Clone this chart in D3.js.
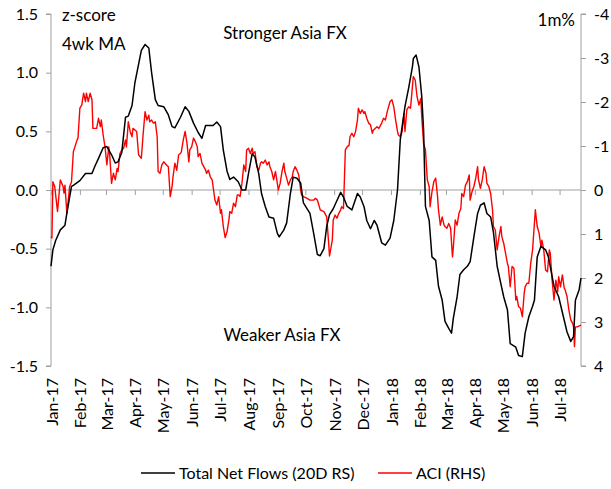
<!DOCTYPE html>
<html>
<head>
<meta charset="utf-8">
<script src="https://cdn.jsdelivr.net/npm/d3@7"></script>
<style>
  html, body { margin: 0; padding: 0; background: #fff; }
  svg { display: block; font-family: Lato, "Open Sans", sans-serif; }
</style>
</head>
<body>
<svg id="chart" width="611" height="489"></svg>
<script>
// Total Net Flows (20D RS), z-score 4wk MA, left axis
const flowSeries = [
["2017-01-01",-0.65],["2017-01-03",-0.51],["2017-01-06",-0.43],["2017-01-11",-0.34],["2017-01-16",-0.30],
["2017-01-18",-0.20],["2017-01-23",0.03],["2017-01-25",0.04],["2017-02-01",0.08],["2017-02-07",0.14],
["2017-02-14",0.14],["2017-02-17",0.20],["2017-02-21",0.27],["2017-02-26",0.36],["2017-03-02",0.37],
["2017-03-07",0.30],["2017-03-11",0.23],["2017-03-14",0.24],["2017-03-18",0.32],["2017-03-22",0.62],
["2017-03-25",0.63],["2017-03-29",0.72],["2017-04-01",0.91],["2017-04-05",1.07],["2017-04-08",1.19],
["2017-04-12",1.24],["2017-04-16",1.21],["2017-04-19",1.00],["2017-04-23",0.77],["2017-04-26",0.72],
["2017-05-02",0.71],["2017-05-07",0.64],["2017-05-11",0.54],["2017-05-14",0.53],["2017-05-20",0.62],
["2017-05-25",0.71],["2017-05-29",0.67],["2017-06-03",0.57],["2017-06-08",0.49],["2017-06-12",0.44],
["2017-06-16",0.55],["2017-06-19",0.55],["2017-06-24",0.55],["2017-06-28",0.58],["2017-07-02",0.54],
["2017-07-05",0.34],["2017-07-09",0.16],["2017-07-12",0.09],["2017-07-16",0.11],["2017-07-21",0.07],
["2017-07-25",0.00],["2017-07-29",0.00],["2017-08-01",0.14],["2017-08-05",0.31],["2017-08-08",0.28],
["2017-08-12",0.14],["2017-08-15",-0.03],["2017-08-19",-0.14],["2017-08-23",-0.23],["2017-08-28",-0.24],
["2017-09-01",-0.37],["2017-09-03",-0.40],["2017-09-08",-0.34],["2017-09-11",-0.28],["2017-09-15",-0.03],
["2017-09-18",0.11],["2017-09-22",0.10],["2017-09-26",0.06],["2017-09-29",-0.11],["2017-10-06",-0.20],
["2017-10-10",-0.37],["2017-10-14",-0.55],["2017-10-17",-0.56],["2017-10-21",-0.50],["2017-10-24",-0.31],
["2017-10-27",-0.21],["2017-10-31",-0.16],["2017-11-04",-0.09],["2017-11-08",-0.02],["2017-11-11",-0.06],
["2017-11-15",-0.14],["2017-11-20",-0.17],["2017-11-26",-0.03],["2017-11-29",-0.06],["2017-12-03",-0.14],
["2017-12-06",-0.26],["2017-12-10",-0.33],["2017-12-14",-0.26],["2017-12-17",-0.30],["2017-12-22",-0.45],
["2017-12-26",-0.47],["2017-12-31",-0.41],["2018-01-04",-0.26],["2018-01-08",0.00],["2018-01-11",0.43],
["2018-01-16",0.71],["2018-01-20",0.87],["2018-01-24",1.05],["2018-01-25",1.12],["2018-01-28",1.15],
["2018-01-31",1.05],["2018-02-03",0.80],["2018-02-05",0.51],["2018-02-07",-0.14],["2018-02-11",-0.26],
["2018-02-14",-0.57],["2018-02-18",-0.60],["2018-02-21",-0.82],["2018-02-25",-0.94],["2018-02-28",-1.12],
["2018-03-04",-1.18],["2018-03-07",-1.22],["2018-03-09",-1.09],["2018-03-13",-0.91],["2018-03-16",-0.72],
["2018-03-20",-0.68],["2018-03-24",-0.65],["2018-03-27",-0.61],["2018-03-31",-0.40],["2018-04-04",-0.20],
["2018-04-07",-0.13],["2018-04-11",-0.11],["2018-04-14",-0.20],["2018-04-18",-0.23],["2018-04-21",-0.36],
["2018-04-25",-0.65],["2018-04-29",-0.80],["2018-05-02",-0.91],["2018-05-06",-1.02],["2018-05-09",-1.31],
["2018-05-15",-1.34],["2018-05-18",-1.41],["2018-05-22",-1.42],["2018-05-25",-1.22],["2018-05-29",-1.08],
["2018-06-02",-0.99],["2018-06-04",-0.94],["2018-06-07",-0.57],["2018-06-11",-0.48],["2018-06-16",-0.51],
["2018-06-19",-0.57],["2018-06-25",-0.82],["2018-06-30",-0.91],["2018-07-06",-1.11],["2018-07-09",-1.21],
["2018-07-13",-1.29],["2018-07-16",-1.25],["2018-07-18",-0.94],["2018-07-22",-0.85],["2018-07-24",-0.75]
];

// ACI (RHS), 1m %, right axis (inverted)
const aciSeries = [
["2017-01-01",1.06],["2017-01-02",1.09],["2017-01-03",-0.19],["2017-01-05",-0.08],["2017-01-08",0.49],
["2017-01-11",-0.23],["2017-01-14",-0.08],["2017-01-15",0.07],["2017-01-16",-0.11],["2017-01-18",0.53],
["2017-01-20",0.15],["2017-01-21",-0.08],["2017-01-23",-0.18],["2017-01-25",-0.87],["2017-01-29",-1.14],
["2017-01-30",-1.18],["2017-02-01",-1.86],["2017-02-03",-1.93],["2017-02-05",-2.20],["2017-02-07",-2.01],
["2017-02-08",-2.20],["2017-02-10",-2.01],["2017-02-12",-2.20],["2017-02-14",-2.05],["2017-02-15",-1.40],
["2017-02-19",-1.40],["2017-02-21",-1.63],["2017-02-23",-1.44],["2017-02-24",-1.59],["2017-02-26",-1.25],
["2017-02-28",-0.98],["2017-03-02",-0.57],["2017-03-04",-0.98],["2017-03-05",-0.80],["2017-03-07",-0.15],
["2017-03-09",-0.38],["2017-03-11",-0.23],["2017-03-13",-0.49],["2017-03-14",-0.42],["2017-03-16",-0.83],
["2017-03-18",-0.91],["2017-03-20",-0.95],["2017-03-22",-1.14],["2017-03-23",-0.98],["2017-03-25",-1.55],
["2017-03-27",-1.33],["2017-03-29",-1.21],["2017-03-30",-1.40],["2017-04-03",-1.33],["2017-04-05",-0.80],
["2017-04-08",-0.72],["2017-04-10",-1.29],["2017-04-12",-1.78],["2017-04-14",-1.59],["2017-04-16",-1.70],
["2017-04-17",-1.55],["2017-04-19",-1.59],["2017-04-21",-1.52],["2017-04-23",-1.55],["2017-04-25",-1.21],
["2017-04-26",-0.42],["2017-04-28",-0.38],["2017-04-30",-0.57],["2017-05-02",-0.64],["2017-05-05",-0.57],
["2017-05-07",-0.53],["2017-05-09",0.15],["2017-05-11",-0.08],["2017-05-12",-0.30],["2017-05-14",-0.61],
["2017-05-16",-0.45],["2017-05-18",-0.80],["2017-05-20",-0.83],["2017-05-21",-0.87],["2017-05-23",-1.14],
["2017-05-25",-1.33],["2017-05-27",-1.06],["2017-05-29",-0.64],["2017-05-30",-0.91],["2017-06-01",-0.98],
["2017-06-03",-1.18],["2017-06-05",-1.10],["2017-06-07",-0.98],["2017-06-08",-0.76],["2017-06-10",-0.83],
["2017-06-12",-0.61],["2017-06-14",-0.53],["2017-06-16",-0.45],["2017-06-17",-0.38],["2017-06-19",-0.45],
["2017-06-21",-0.30],["2017-06-23",-0.23],["2017-06-24",-0.08],["2017-06-26",0.23],["2017-06-28",0.34],
["2017-06-30",0.15],["2017-07-02",0.53],["2017-07-03",0.45],["2017-07-05",0.83],["2017-07-07",1.08],
["2017-07-09",0.95],["2017-07-11",0.68],["2017-07-12",0.49],["2017-07-14",0.53],["2017-07-16",0.30],
["2017-07-18",0.38],["2017-07-20",0.11],["2017-07-21",0.11],["2017-07-23",0.15],["2017-07-25",-0.15],
["2017-07-27",-0.57],["2017-07-29",-0.42],["2017-07-30",-0.91],["2017-08-01",-0.95],["2017-08-03",-0.83],
["2017-08-05",-0.95],["2017-08-06",-0.83],["2017-08-08",-0.87],["2017-08-10",-0.53],["2017-08-12",-0.45],
["2017-08-14",-0.61],["2017-08-15",-0.64],["2017-08-17",-0.61],["2017-08-19",-0.68],["2017-08-21",-0.57],
["2017-08-23",-0.64],["2017-08-24",-0.53],["2017-08-26",-0.42],["2017-08-28",-0.23],["2017-08-30",-0.42],
["2017-09-01",-0.15],["2017-09-02",0.00],["2017-09-04",-0.15],["2017-09-06",-0.42],["2017-09-08",-0.61],
["2017-09-09",-0.42],["2017-09-11",-0.27],["2017-09-13",-0.11],["2017-09-15",-0.23],["2017-09-17",-0.30],
["2017-09-18",-0.42],["2017-09-20",-0.53],["2017-09-22",-0.45],["2017-09-24",-0.34],["2017-09-26",0.00],
["2017-09-27",0.11],["2017-09-29",0.15],["2017-10-03",0.19],["2017-10-06",0.23],["2017-10-10",0.23],
["2017-10-12",0.19],["2017-10-14",0.23],["2017-10-15",0.30],["2017-10-17",0.45],["2017-10-21",0.49],
["2017-10-22",0.53],["2017-10-24",0.61],["2017-10-26",1.18],["2017-10-27",1.50],["2017-10-30",1.14],
["2017-10-31",0.68],["2017-11-02",0.57],["2017-11-04",0.64],["2017-11-06",0.53],["2017-11-08",0.45],
["2017-11-09",0.38],["2017-11-11",0.42],["2017-11-13",-0.91],["2017-11-15",-0.98],["2017-11-17",-1.02],
["2017-11-18",-1.21],["2017-11-20",-1.29],["2017-11-22",-1.21],["2017-11-24",-1.33],["2017-11-26",-1.59],
["2017-11-27",-1.86],["2017-11-29",-1.74],["2017-12-01",-1.82],["2017-12-03",-1.74],["2017-12-04",-1.78],
["2017-12-06",-1.63],["2017-12-08",-1.52],["2017-12-10",-1.48],["2017-12-12",-1.29],["2017-12-13",-1.36],
["2017-12-15",-1.40],["2017-12-17",-1.44],["2017-12-19",-1.40],["2017-12-21",-1.48],["2017-12-22",-1.52],
["2017-12-24",-1.63],["2017-12-26",-1.59],["2017-12-28",-1.78],["2017-12-31",-2.01],["2018-01-02",-2.05],
["2018-01-04",-1.89],["2018-01-06",-1.59],["2018-01-08",-1.33],["2018-01-09",-1.25],["2018-01-11",-1.21],
["2018-01-13",-1.33],["2018-01-15",-1.74],["2018-01-16",-1.33],["2018-01-18",-1.82],["2018-01-20",-1.89],
["2018-01-22",-1.86],["2018-01-24",-2.35],["2018-01-25",-2.58],["2018-01-27",-2.50],["2018-01-29",-2.12],
["2018-01-31",-1.93],["2018-02-02",-2.08],["2018-02-03",-1.67],["2018-02-05",-1.06],["2018-02-07",-0.91],
["2018-02-09",-0.23],["2018-02-11",-0.08],["2018-02-12",0.38],["2018-02-14",0.04],["2018-02-16",-0.19],
["2018-02-18",-0.27],["2018-02-20",0.15],["2018-02-21",0.45],["2018-02-23",0.80],["2018-02-25",0.61],
["2018-02-27",0.80],["2018-02-28",0.83],["2018-03-02",0.87],["2018-03-04",0.76],["2018-03-06",0.87],
["2018-03-08",1.52],["2018-03-09",1.29],["2018-03-11",0.68],["2018-03-13",0.80],["2018-03-15",0.53],
["2018-03-17",0.42],["2018-03-18",0.08],["2018-03-20",0.15],["2018-03-22",-0.11],["2018-03-24",-0.19],
["2018-03-26",-0.34],["2018-03-27",0.23],["2018-03-29",0.04],["2018-03-31",-0.08],["2018-04-02",-0.27],
["2018-04-04",-0.53],["2018-04-05",-0.23],["2018-04-07",-0.04],["2018-04-09",-0.23],["2018-04-11",-0.53],
["2018-04-13",-0.38],["2018-04-14",-0.15],["2018-04-16",-0.08],["2018-04-18",0.08],["2018-04-20",0.45],
["2018-04-21",0.83],["2018-04-23",0.91],["2018-04-25",1.36],["2018-04-27",1.06],["2018-04-29",0.83],
["2018-04-30",1.06],["2018-05-02",1.21],["2018-05-04",1.44],["2018-05-06",1.67],["2018-05-07",1.74],
["2018-05-09",2.20],["2018-05-11",1.74],["2018-05-13",1.78],["2018-05-15",2.50],["2018-05-16",2.42],
["2018-05-18",2.65],["2018-05-20",2.69],["2018-05-22",2.88],["2018-05-24",2.35],["2018-05-25",2.20],
["2018-05-27",2.12],["2018-05-29",2.12],["2018-05-31",1.67],["2018-06-02",1.36],["2018-06-03",1.06],
["2018-06-05",0.45],["2018-06-07",0.83],["2018-06-09",0.98],["2018-06-11",1.29],["2018-06-12",1.14],
["2018-06-14",1.36],["2018-06-16",1.82],["2018-06-18",1.86],["2018-06-20",1.36],["2018-06-21",1.44],
["2018-06-23",2.05],["2018-06-25",2.50],["2018-06-27",2.05],["2018-06-29",2.31],["2018-06-30",1.97],
["2018-07-02",2.20],["2018-07-04",1.93],["2018-07-06",2.23],["2018-07-07",2.27],["2018-07-09",2.42],
["2018-07-11",2.73],["2018-07-13",2.95],["2018-07-15",3.03],["2018-07-16",3.11],["2018-07-17",3.56],
["2018-07-18",3.11],["2018-07-20",3.11],["2018-07-24",3.07]
];

const monthLabels = ["Jan-17","Feb-17","Mar-17","Apr-17","May-17","Jun-17","Jul-17","Aug-17","Sep-17",
  "Oct-17","Nov-17","Dec-17","Jan-18","Feb-18","Mar-18","Apr-18","May-18","Jun-18","Jul-18"];
const leftTicks = [-1.5, -1.0, -0.5, 0.0, 0.5, 1.0, 1.5];
const rightTicks = [-4, -3, -2, -1, 0, 1, 2, 3, 4];
const legendItems = [
  {label: "Total Net Flows (20D RS)", color: "#000000"},
  {label: "ACI (RHS)", color: "#ff0000"}
];

const parse = d3.timeParse("%Y-%m-%d");
const flow = flowSeries.map(d => ({date: parse(d[0]), value: d[1]}));
const aci = aciSeries.map(d => ({date: parse(d[0]), value: d[1]}));

const svg = d3.select("#chart");
const L = 51, R = 581, T = 14, B = 366;
const axisColor = "#a0a0a0";

const x = d3.scaleTime()
  .domain([parse("2017-01-01"), parse("2018-07-24")])
  .range([L, R]);
const yL = d3.scaleLinear().domain([-1.5, 1.5]).range([B, T]);
const yR = d3.scaleLinear().domain([4, -4]).range([B, T]);

const monthDates = d3.timeMonth.range(parse("2017-01-01"), parse("2018-07-02"));

// Left axis
const gL = svg.append("g").attr("transform", `translate(${L},0)`)
  .call(d3.axisLeft(yL).tickValues(leftTicks).tickSize(5).tickPadding(8)
    .tickFormat(d => d.toFixed(1)));
gL.select(".domain").attr("stroke", axisColor).attr("d", `M-5,${T}H0V${B}H-5`);
gL.selectAll(".tick line").attr("stroke", axisColor);
gL.selectAll(".tick text").attr("font-size", 16).attr("fill", "#000")
  .attr("font-family", "Lato, sans-serif");

// Right axis
const gR = svg.append("g").attr("transform", `translate(${R},0)`)
  .call(d3.axisRight(yR).tickValues(rightTicks).tickSize(5).tickPadding(8)
    .tickFormat(d => String(d)));
gR.select(".domain").attr("stroke", axisColor).attr("d", `M5,${T}H0V${B}H5`);
gR.selectAll(".tick line").attr("stroke", axisColor);
gR.selectAll(".tick text").attr("font-size", 16).attr("fill", "#000")
  .attr("font-family", "Lato, sans-serif");

// Zero line with month ticks
const gX = svg.append("g").attr("transform", `translate(0,${yL(0)})`)
  .call(d3.axisBottom(x).tickValues(monthDates).tickSize(5).tickFormat(""));
gX.select(".domain").attr("stroke", axisColor).attr("d", `M${L},0H${R}`);
gX.selectAll(".tick line").attr("stroke", axisColor);

// Month labels at bottom
const gXL = svg.append("g").attr("transform", `translate(0,370)`)
  .call(d3.axisBottom(x).tickValues(monthDates).tickSize(0)
    .tickFormat((d, i) => monthLabels[i]));
gXL.select(".domain").remove();
gXL.selectAll(".tick text")
  .attr("font-size", 16).attr("fill", "#000").attr("font-family", "Lato, sans-serif")
  .attr("transform", "rotate(-90)")
  .attr("x", -8).attr("y", 0).attr("dy", "0.38em")
  .attr("text-anchor", "end");

// Lines
const lineL = d3.line().x(d => x(d.date)).y(d => yL(d.value));
const lineR = d3.line().x(d => x(d.date)).y(d => yR(d.value));

svg.append("path").datum(aci).attr("d", lineR)
  .attr("fill", "none").attr("stroke", "#ff0000").attr("stroke-width", 1.4)
  .attr("stroke-linejoin", "round");
svg.append("path").datum(flow).attr("d", lineL)
  .attr("fill", "none").attr("stroke", "#000000").attr("stroke-width", 1.5)
  .attr("stroke-linejoin", "round");

// Annotations
const ann = svg.append("g").attr("font-family", "Lato, sans-serif").attr("fill", "#000");
ann.append("text").attr("x", 62).attr("y", 21).attr("font-size", 17).text("z-score");
ann.append("text").attr("x", 62).attr("y", 50).attr("font-size", 17).text("4wk MA");
ann.append("text").attr("x", 285).attr("y", 39).attr("font-size", 17)
  .attr("text-anchor", "middle").text("Stronger Asia FX");
ann.append("text").attr("x", 282).attr("y", 341).attr("font-size", 17)
  .attr("text-anchor", "middle").text("Weaker Asia FX");
ann.append("text").attr("x", 575).attr("y", 26).attr("font-size", 17)
  .attr("text-anchor", "end").text("1m%");

// Legend
const legendX = [141, 378];
const lg = svg.append("g").attr("font-family", "Lato, sans-serif");
legendItems.forEach((item, i) => {
  const g = lg.append("g").attr("transform", `translate(${legendX[i]},473)`);
  g.append("line").attr("x1", 0).attr("x2", 34).attr("y1", 0).attr("y2", 0)
    .attr("stroke", item.color).attr("stroke-width", 1.5);
  g.append("text").attr("x", 38).attr("y", 0).attr("dy", "0.35em")
    .attr("font-size", 16).attr("fill", "#000").text(item.label);
});
</script>
</body>
</html>
